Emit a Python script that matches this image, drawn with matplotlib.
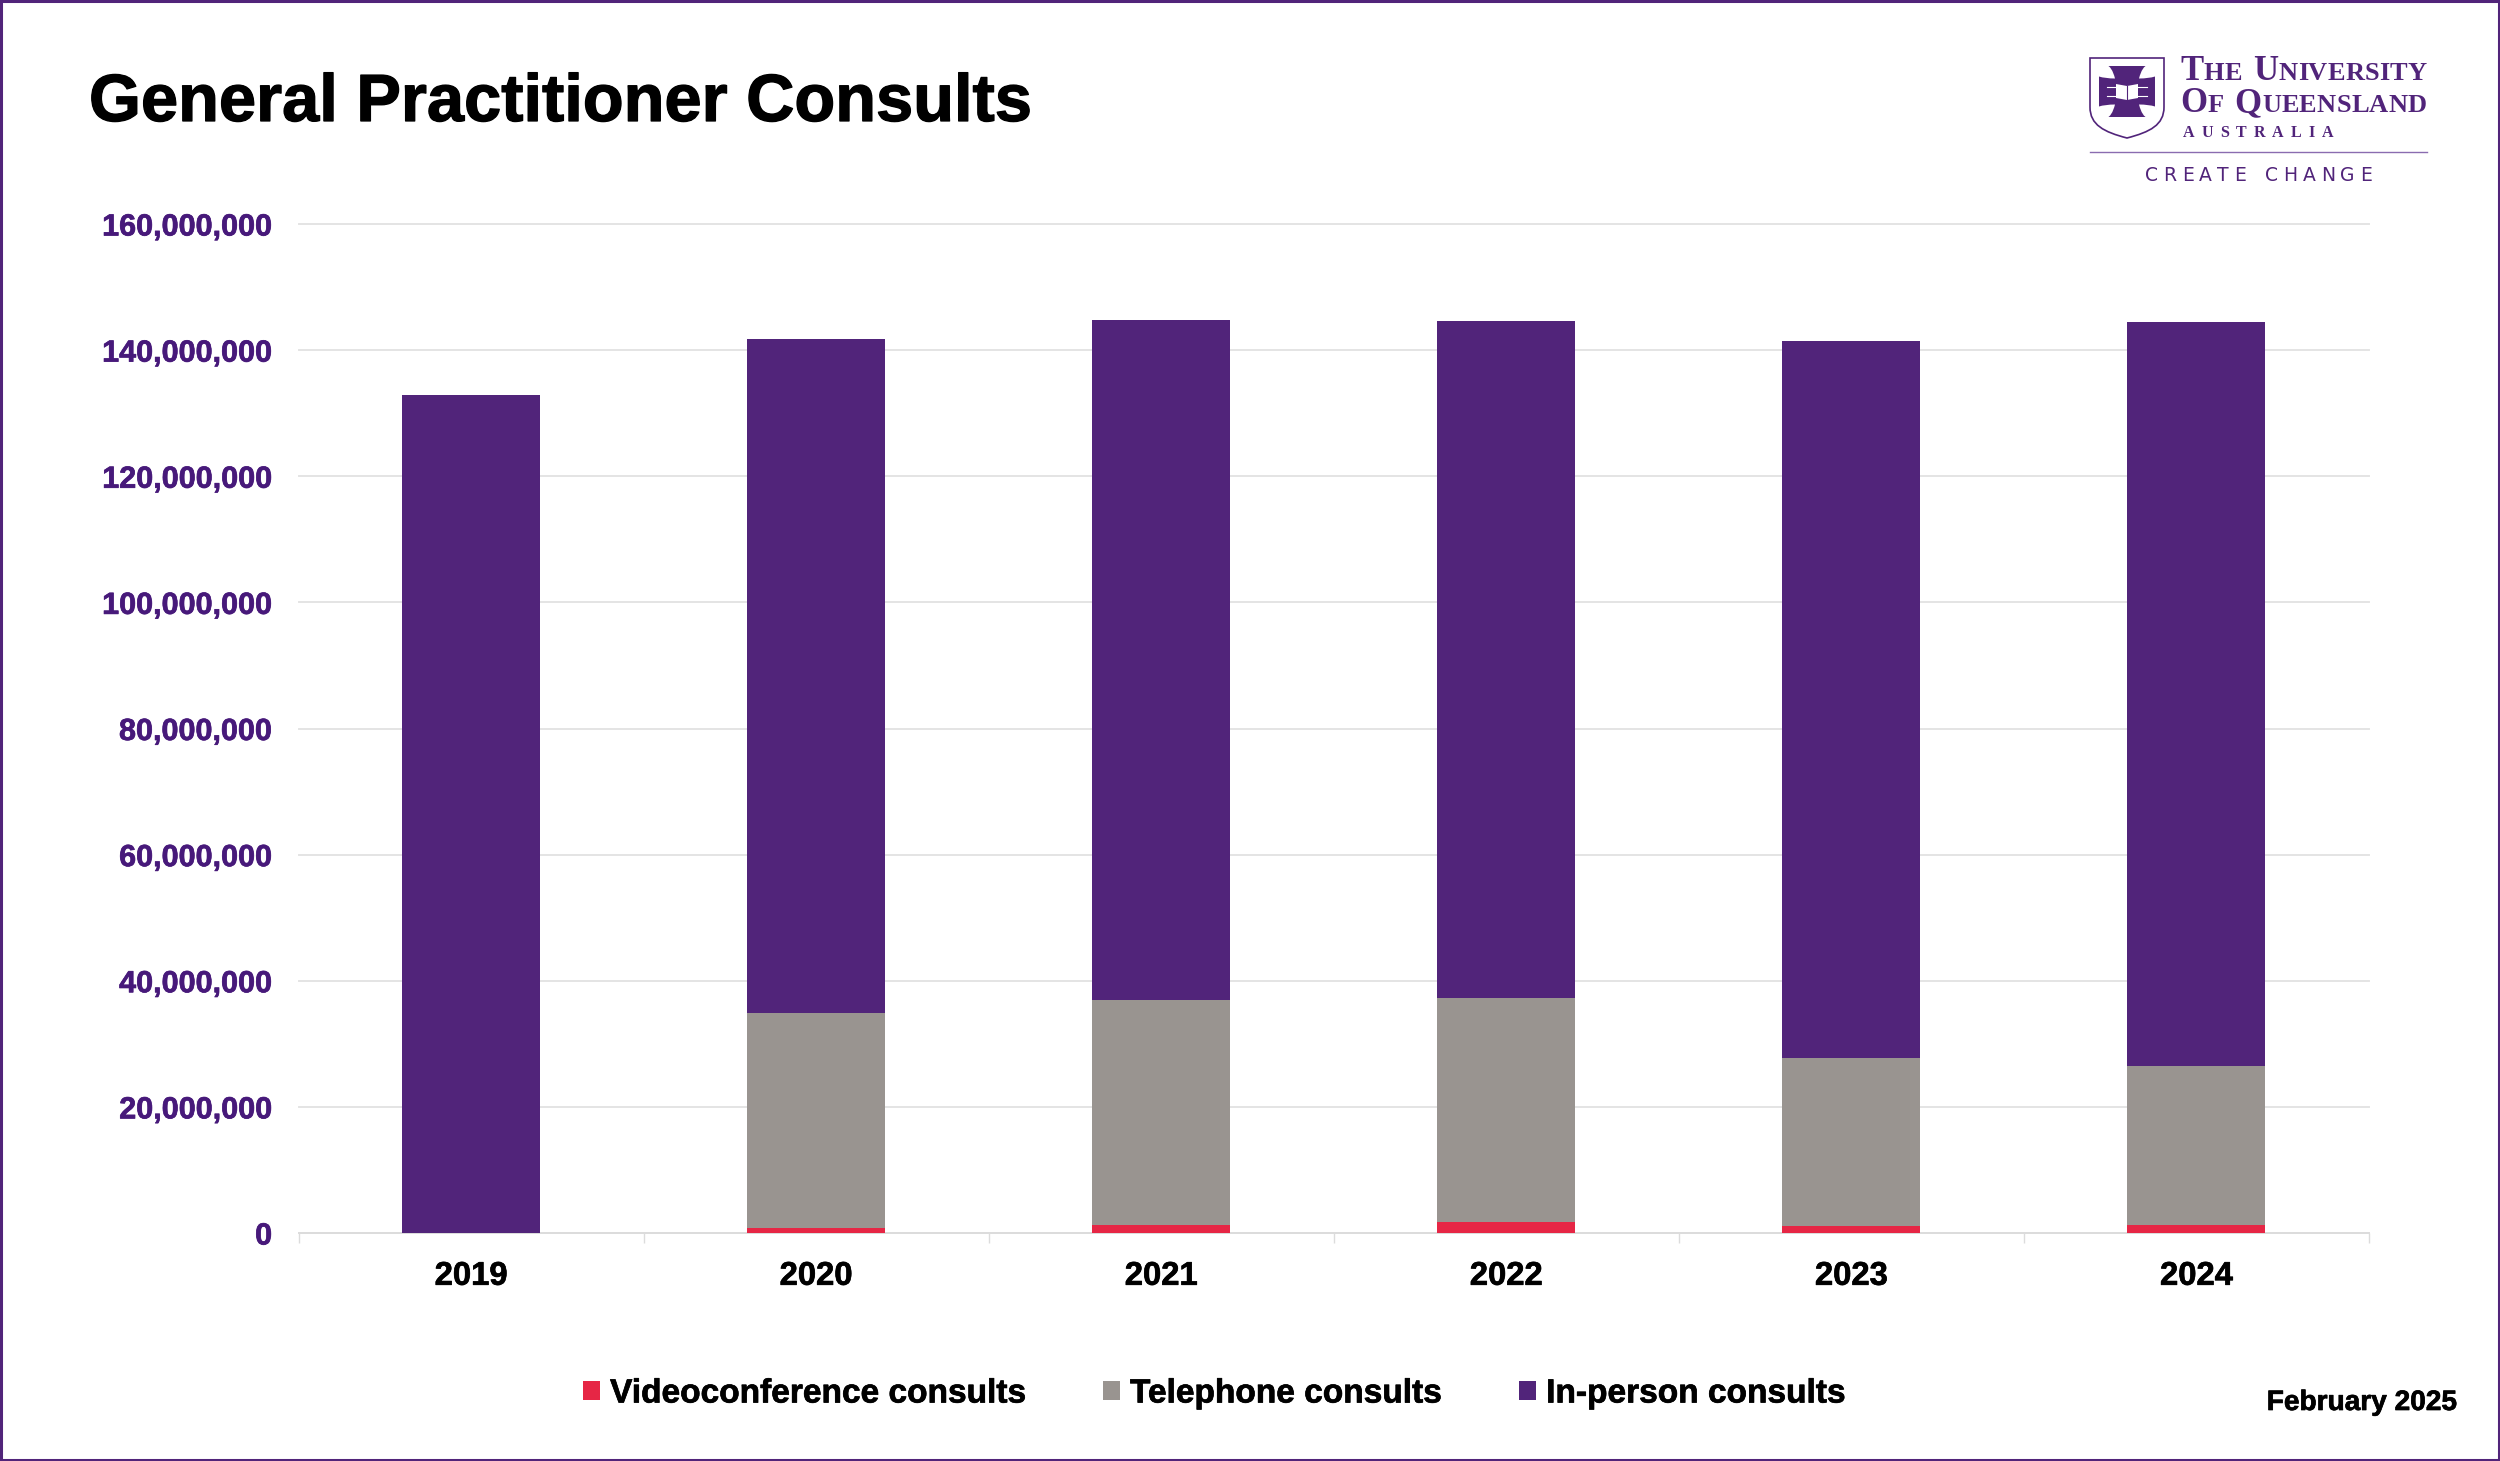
import matplotlib
matplotlib.use("Agg")
from matplotlib import pyplot as plt
from matplotlib import patheffects as pe
from matplotlib.patches import PathPatch, Polygon, Rectangle
from matplotlib.path import Path
from matplotlib.ticker import FuncFormatter

PURPLE = "#51247a"
DARK_PURPLE = "#47197a"
GREY = "#999490"
RED = "#e62645"
GRID = "#e4e4e4"

years = ["2019", "2020", "2021", "2022", "2023", "2024"]
video = [0, 800000, 1300000, 1800000, 1100000, 1200000]
video_tele_top = [0, 34900000, 36900000, 37300000, 27800000, 26500000]
stack_top = [132950000, 141800000, 144700000, 144600000, 141400000, 144400000]
telephone = [t - v for t, v in zip(video_tele_top, video)]
in_person = [s - t for s, t in zip(stack_top, video_tele_top)]
y_ticks = [0, 20000000, 40000000, 60000000, 80000000, 100000000, 120000000, 140000000, 160000000]

plt.rcParams["font.family"] = ["Liberation Sans", "DejaVu Sans"]
plt.rcParams["font.weight"] = "bold"

W, H = 2500, 1461
heavy = [pe.withStroke(linewidth=0.5, foreground="black")]
heavy_purple = [pe.withStroke(linewidth=0.5, foreground=DARK_PURPLE)]

fig = plt.figure(figsize=(W / 100, H / 100), dpi=100, facecolor="white")
ax = fig.add_axes([298.5 / W, 1 - 1233 / H, (2369 - 298.5) / W, (1233 - 224) / H])

x = list(range(len(years)))
bar_w = 0.4
ax.bar(x, video, bar_w, color=RED, label="Videoconference consults", zorder=3)
ax.bar(x, telephone, bar_w, bottom=video, color=GREY, label="Telephone consults", zorder=3)
ax.bar(x, in_person, bar_w, bottom=video_tele_top, color=PURPLE, label="In-person consults", zorder=3)

ax.set_xlim(-0.5, 5.5)
ax.set_ylim(0, 160000000)
ax.set_yticks(y_ticks)
ax.yaxis.set_major_formatter(FuncFormatter(lambda v, p: f"{int(v):,}"))
ax.set_xticks(x)
ax.set_xticklabels(years)
ax.set_xticks([i - 0.5 for i in range(len(years) + 1)], minor=True)
ax.tick_params(axis="y", length=0, pad=19, labelsize=22, labelcolor=DARK_PURPLE)
ax.tick_params(axis="x", which="major", length=0, pad=20, labelsize=23.6, labelcolor="black")
ax.tick_params(axis="x", which="minor", length=7, width=1, color="#dcdcdc")
ax.grid(axis="y", color=GRID, linewidth=1.4, zorder=0)
ax.set_axisbelow(True)
for line in ax.get_ygridlines():
    line.set_clip_on(False)
for s in ["top", "right", "left"]:
    ax.spines[s].set_visible(False)
ax.spines["bottom"].set_color("#dcdcdc")
ax.spines["bottom"].set_linewidth(1.4)
for lab in ax.get_yticklabels():
    lab.set_path_effects(heavy_purple)
for lab in ax.get_xticklabels():
    lab.set_path_effects(heavy)

leg = ax.legend(loc="center", bbox_to_anchor=(1214 / W, 1 - 1394 / H), bbox_transform=fig.transFigure,
                ncol=3, frameon=False, fontsize=24.1, handlelength=0.52, handleheight=0.52,
                handletextpad=0.3, columnspacing=2.3, borderpad=0, borderaxespad=0)
for lab in leg.get_texts():
    lab.set_path_effects(heavy)

# overlay in pixel coordinates for title, frame and logo
ov = fig.add_axes([0, 0, 1, 1], facecolor="none")
ov.set_xlim(0, W)
ov.set_ylim(H, 0)
ov.axis("off")

ov.text(89, 104, "General Practitioner Consults", fontsize=48.1, color="black", va="center", ha="left",
        path_effects=[pe.withStroke(linewidth=0.9, foreground="black")])
ov.text(2457, 1403, "February 2025", fontsize=20.2, color="black", va="center", ha="right", path_effects=heavy)
ov.add_patch(Rectangle((1, 1), W - 2, H - 2, fill=False, edgecolor=PURPLE, linewidth=2.2))


def spaced(runs, x0, x1, baseline, **kw):
    # put the letters one by one so they fill x0..x1 on the baseline
    r = fig.canvas.get_renderer()
    items = []
    total = 0
    for ch, size in runs:
        if ch == " ":
            items.append((None, size * 0.55))
            total += size * 0.55
            continue
        t = ov.text(0, baseline, ch, fontsize=size, va="baseline", ha="left", color=PURPLE, **kw)
        w = t.get_window_extent(r).width
        items.append((t, w))
        total += w
    gap = (x1 - x0 - total) / max(len(items) - 1, 1)
    pos = x0
    for t, w in items:
        if t is not None:
            t.set_x(pos)
        pos += w + gap


def small_caps(txt, big, small):
    return [(c, big if (i == 0 or txt[i - 1] == " ") else small) for i, c in enumerate(txt)]


serif = dict(family="Liberation Serif", fontweight="bold")
spaced(small_caps("THE UNIVERSITY", 25, 19), 2180, 2427, 80, **serif)
spaced(small_caps("OF QUEENSLAND", 25, 19), 2180, 2427, 112, **serif)
spaced([(c, 11.5) for c in "AUSTRALIA"], 2183, 2333, 137, **serif)
spaced([(c, 13.5) for c in "CREATE CHANGE"], 2145, 2372, 181, family="DejaVu Sans", fontweight="normal")
ov.plot([2090, 2427], [152, 152], color="#8a6cb0", linewidth=1)

# shield outline
shield = Path([(2090, 58), (2164, 58), (2164, 107), (2164, 125), (2150, 132), (2127, 138),
               (2104, 132), (2090, 125), (2090, 107), (2090, 58)],
              [Path.MOVETO, Path.LINETO, Path.LINETO, Path.CURVE4, Path.CURVE4, Path.CURVE4,
               Path.CURVE4, Path.CURVE4, Path.CURVE4, Path.CLOSEPOLY])
ov.add_patch(PathPatch(shield, facecolor="white", edgecolor=PURPLE, linewidth=1.2))

# cross: block with four white petals cut out of the corners
ov.add_patch(Rectangle((2099, 66), 56, 51, facecolor=PURPLE, edgecolor="none"))
cx, cy = 2127, 91.5
for sx, sy in [(-1, -1), (1, -1), (1, 1), (-1, 1)]:
    petal = [(cx + sx * 29, cy + sy * 27), (cx + sx * 21, cy + sy * 27), (cx + sx * 15, cy + sy * 25),
             (cx + sx * 12, cy + sy * 13), (cx + sx * 22, cy + sy * 13), (cx + sx * 28, cy + sy * 15),
             (cx + sx * 29, cy + sy * 20), (cx + sx * 29, cy + sy * 27)]
    codes = [Path.MOVETO, Path.LINETO, Path.CURVE3, Path.CURVE3, Path.CURVE3, Path.CURVE3, Path.LINETO, Path.CLOSEPOLY]
    ov.add_patch(PathPatch(Path(petal, codes), facecolor="white", edgecolor="none"))

# book at the centre of the cross
ov.add_patch(Polygon([(2116, 84), (2127, 86), (2138, 84), (2138, 98), (2127, 100), (2116, 98)],
                     closed=True, facecolor="white", edgecolor="none"))
ov.plot([2127, 2127], [86, 100], color=PURPLE, linewidth=0.8)
for yy in (87, 96):
    ov.plot([2107, 2116], [yy, yy], color="white", linewidth=0.8)
    ov.plot([2138, 2147], [yy, yy], color="white", linewidth=0.8)

fig.savefig("out.png", dpi=100, facecolor="white")
